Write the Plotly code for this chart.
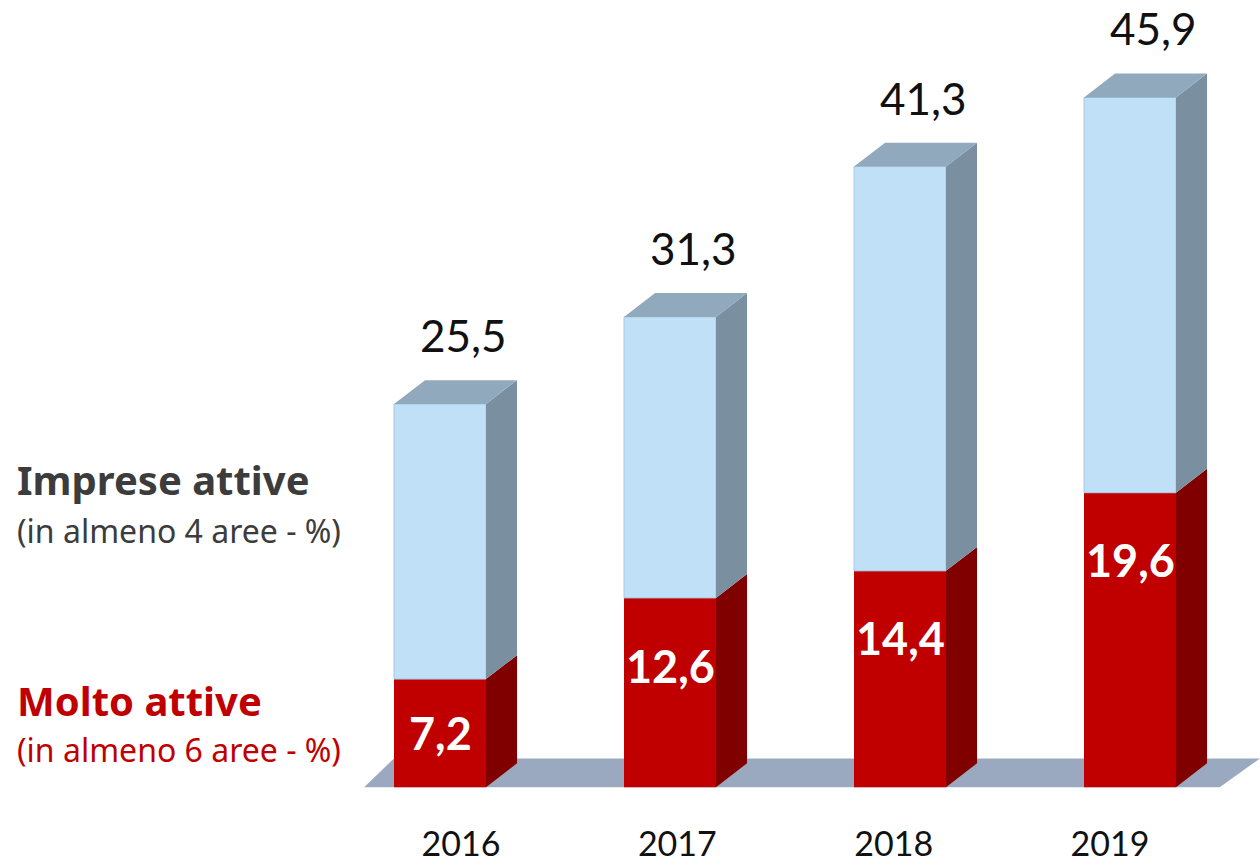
import plotly.graph_objects as go

years = ["2016", "2017", "2018", "2019"]
imprese_attive = [25.5, 31.3, 41.3, 45.9]
molto_attive = [7.2, 12.6, 14.4, 19.6]


def fmt(v):
    return f"{v:.1f}".replace(".", ",")


pos = list(range(len(years)))
width = 0.4
dx = 0.135  # depth in x units
dy = 1.59  # depth in y units
upper = [t - m for t, m in zip(imprese_attive, molto_attive)]

fig = go.Figure()

fig.add_trace(
    go.Bar(
        x=pos,
        y=molto_attive,
        width=width,
        marker={"color": "#c00000", "line": {"width": 0}},
        showlegend=False,
    )
)
fig.add_trace(
    go.Bar(
        x=pos,
        y=upper,
        base=molto_attive,
        width=width,
        marker={"color": "#c0e0f8", "line": {"width": 1, "color": "#a8c8e2"}},
        showlegend=False,
    )
)


def faces(lows, highs):
    xs, ys = [], []
    for p, lo, hi in zip(pos, lows, highs):
        xr = p + width / 2
        xs += [xr, xr + dx, xr + dx, xr, xr, None]
        ys += [lo, lo + dy, hi + dy, hi, lo, None]
    return xs, ys


for lows, highs, color in [
    ([0] * len(pos), molto_attive, "#800000"),
    (molto_attive, imprese_attive, "#7a8fa0"),
]:
    xs, ys = faces(lows, highs)
    fig.add_trace(
        go.Scatter(
            x=xs, y=ys, fill="toself", fillcolor=color, line={"width": 0},
            mode="lines", hoverinfo="skip", showlegend=False,
        )
    )

# top faces
tx, ty = [], []
for p, t in zip(pos, imprese_attive):
    xl, xr = p - width / 2, p + width / 2
    tx += [xl, xl + dx, xr + dx, xr, xl, None]
    ty += [t, t + dy, t + dy, t, t, None]
fig.add_trace(
    go.Scatter(
        x=tx, y=ty, fill="toself", fillcolor="#91a9bd", line={"width": 0},
        mode="lines", hoverinfo="skip", showlegend=False,
    )
)

# invisible trace for the year axis
fig.add_trace(
    go.Scatter(x=pos, y=[0] * len(pos), xaxis="x2", mode="markers",
               marker={"opacity": 0}, hoverinfo="skip", showlegend=False)
)

# floor, kept under the bars
x0 = pos[0] - width / 2
floor = [(x0 - 0.13, 0), (pos[-1] + 0.39, 0), (pos[-1] + 0.565, 1.92), (x0, 1.92)]
fig.add_shape(
    type="path",
    path="M " + " L ".join(f"{a},{b}" for a, b in floor) + " Z",
    xref="x", yref="y", fillcolor="#9aa9c0", line={"width": 0}, layer="below",
)

for p, t in zip(pos, imprese_attive):
    fig.add_annotation(
        x=p, y=t, text=fmt(t), showarrow=False, xshift=23, yshift=69,
        font={"family": "Lato", "size": 44, "color": "#111111"},
    )
for p, m in zip(pos, molto_attive):
    fig.add_annotation(
        x=p, y=max(m / 2, m - 4.5), text=f"<b>{fmt(m)}</b>", showarrow=False,
        font={"family": "Lato", "size": 45, "color": "white", "weight": 900},
    )

side = [
    ("<b>Imprese attive</b>", 481, 40, "#3c3c3c"),
    ("(in almeno 4 aree - %)", 532, 32, "#3c3c3c"),
    ("<b>Molto attive</b>", 703, 40, "#c00000"),
    ("(in almeno 6 aree - %)", 752, 32, "#c00000"),
]
for text, ypx, size, color in side:
    fig.add_annotation(
        xref="paper", yref="paper", x=15 / 1260, y=1 - ypx / 863,
        xanchor="left", yanchor="middle", text=text, showarrow=False,
        font={"family": "Noto Sans", "size": size, "color": color},
    )

fig.update_layout(
    width=1260,
    height=863,
    margin={"l": 0, "r": 0, "t": 0, "b": 0, "pad": 0},
    paper_bgcolor="white",
    plot_bgcolor="white",
    barmode="overlay",
    xaxis={"range": [-440 / 230, 820 / 230], "visible": False},
    xaxis2={
        "range": [-461 / 216.33, 799 / 216.33],
        "overlaying": "x",
        "anchor": "free",
        "position": 0.045,
        "side": "bottom",
        "tickvals": pos,
        "ticktext": years,
        "showgrid": False,
        "zeroline": False,
        "showline": False,
        "ticks": "",
        "tickfont": {"family": "Lato", "size": 34, "color": "#111111"},
    },
    yaxis={"range": [-73 / 15.08, 790 / 15.08], "visible": False},
)

fig.write_html(
    "out.html",
    config={"displayModeBar": False},
    post_script="document.body.style.margin = '0';",
)
